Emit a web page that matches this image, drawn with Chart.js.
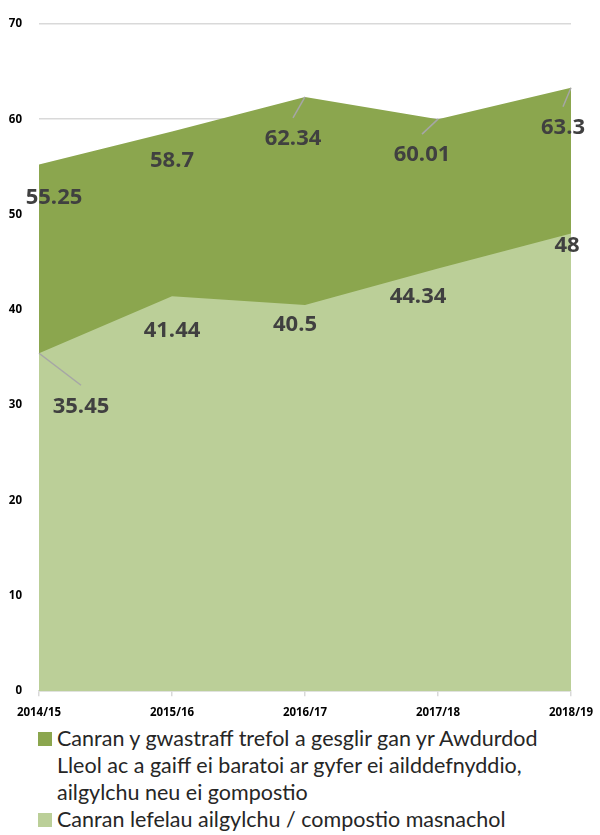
<!DOCTYPE html>
<html>
<head>
<meta charset="utf-8">
<script src="https://cdn.jsdelivr.net/npm/chart.js@4.4.0/dist/chart.umd.min.js"></script>
<style>
  body { margin: 0; background: #fff; overflow: hidden; }
  #wrap { width: 600px; height: 730px; position: relative; }
  #legend { margin: -5px 0 0 38px; width: 505px; font-family: Lato, "Open Sans", sans-serif; font-size: 21.5px; color: #262626; }
  .item { display: flex; align-items: flex-start; line-height: 27px; }
  .box { width: 14px; height: 14px; flex: none; margin: 7px 5px 0 0; }
</style>
</head>
<body>
<div id="wrap"><canvas id="myChart"></canvas></div>
<div id="legend"></div>
<script>
const years = ["2014/15", "2015/16", "2016/17", "2017/18", "2018/19"];
const localAuthority = [55.25, 58.7, 62.34, 60.01, 63.3];
const commercial = [35.45, 41.44, 40.5, 44.34, 48];
const yTicks = [0, 10, 20, 30, 40, 50, 60, 70];

const laName = "Canran y gwastraff trefol a gesglir gan yr Awdurdod Lleol ac a gaiff ei baratoi ar gyfer ei ailddefnyddio, ailgylchu neu ei gompostio";
const comName = "Canran lefelau ailgylchu / compostio masnachol";

// label nudges (dx, dy) from each point, and whether a leader line is drawn
const laLabelPos = [[15, 33, 0], [0, 29, 0], [-12, 42, 1], [-16, 36, 1], [-8, 40, 1]];
const comLabelPos = [[42, 53, 1], [0, 35, 0], [-10, 20, 0], [-20, 28, 0], [-4, 12, 0]];

const boldFont = "'Open Sans', 'DejaVu Sans', sans-serif";

const labelPlugin = {
  id: "labels",
  afterDatasetsDraw(chart) {
    const ctx = chart.ctx;
    chart.data.datasets.forEach((ds, i) => {
      const meta = chart.getDatasetMeta(i);
      meta.data.forEach((pt, j) => {
        const [dx, dy, lead] = ds.labelPos[j];
        const x = pt.x + dx;
        const y = pt.y + dy;
        if (lead) {
          ctx.save();
          ctx.strokeStyle = "#a6a6a6";
          ctx.lineWidth = 1.5;
          ctx.beginPath();
          ctx.moveTo(pt.x, pt.y);
          ctx.lineTo(x, y - 21);
          ctx.stroke();
          ctx.restore();
        }
        ctx.save();
        ctx.font = "bold 22px " + boldFont;
        ctx.fillStyle = "#404040";
        ctx.textAlign = "center";
        ctx.textBaseline = "middle";
        ctx.fillText(String(ds.data[j]), x, y);
        ctx.restore();
      });
    });
  },
};

const ctx = document.querySelector("#myChart").getContext("2d");

const chart = new Chart(ctx, {
  type: "line",
  data: {
    labels: years,
    datasets: [
      {
        label: laName,
        data: localAuthority,
        backgroundColor: "#8ba64e",
        borderWidth: 0,
        pointRadius: 0,
        fill: "origin",
        tension: 0,
        order: 2,
        labelPos: laLabelPos,
      },
      {
        label: comName,
        data: commercial,
        backgroundColor: "#bbcf98",
        borderWidth: 0,
        pointRadius: 0,
        fill: "origin",
        tension: 0,
        order: 1,
        labelPos: comLabelPos,
      },
    ],
  },
  options: {
    responsive: true,
    maintainAspectRatio: false,
    animation: false,
    layout: { padding: { top: 20, right: 29, left: 0, bottom: 0 } },
    plugins: { legend: { display: false }, tooltip: { enabled: false } },
    scales: {
      x: {
        offset: false,
        afterFit: (axis) => { axis.paddingRight = 0; axis.paddingLeft = 0; },
        grid: { drawOnChartArea: false, color: "#d9d9d9", tickLength: 5, lineWidth: 1.5 },
        border: { color: "#d9d9d9", width: 1.5 },
        ticks: { color: "#000", font: { family: boldFont, size: 11.5, weight: "bold" }, maxRotation: 0, padding: 10 },
      },
      y: {
        min: 0,
        max: 70,
        afterBuildTicks: (axis) => { axis.ticks = yTicks.map((v) => ({ value: v })); },
        afterFit: (axis) => { axis.width = 39; },
        grid: { color: "#d9d9d9", lineWidth: 1.5, drawTicks: false },
        border: { display: false },
        ticks: { color: "#000", padding: 17, font: { family: boldFont, size: 11.5, weight: "bold" } },
      },
    },
  },
  plugins: [labelPlugin],
});

// legend built from the chart datasets
const legend = document.querySelector("#legend");
chart.data.datasets.forEach((ds) => {
  const item = document.createElement("div");
  item.className = "item";
  item.innerHTML = `<span class="box" style="background:${ds.backgroundColor}"></span><span>${ds.label}</span>`;
  legend.appendChild(item);
});
</script>
</body>
</html>
